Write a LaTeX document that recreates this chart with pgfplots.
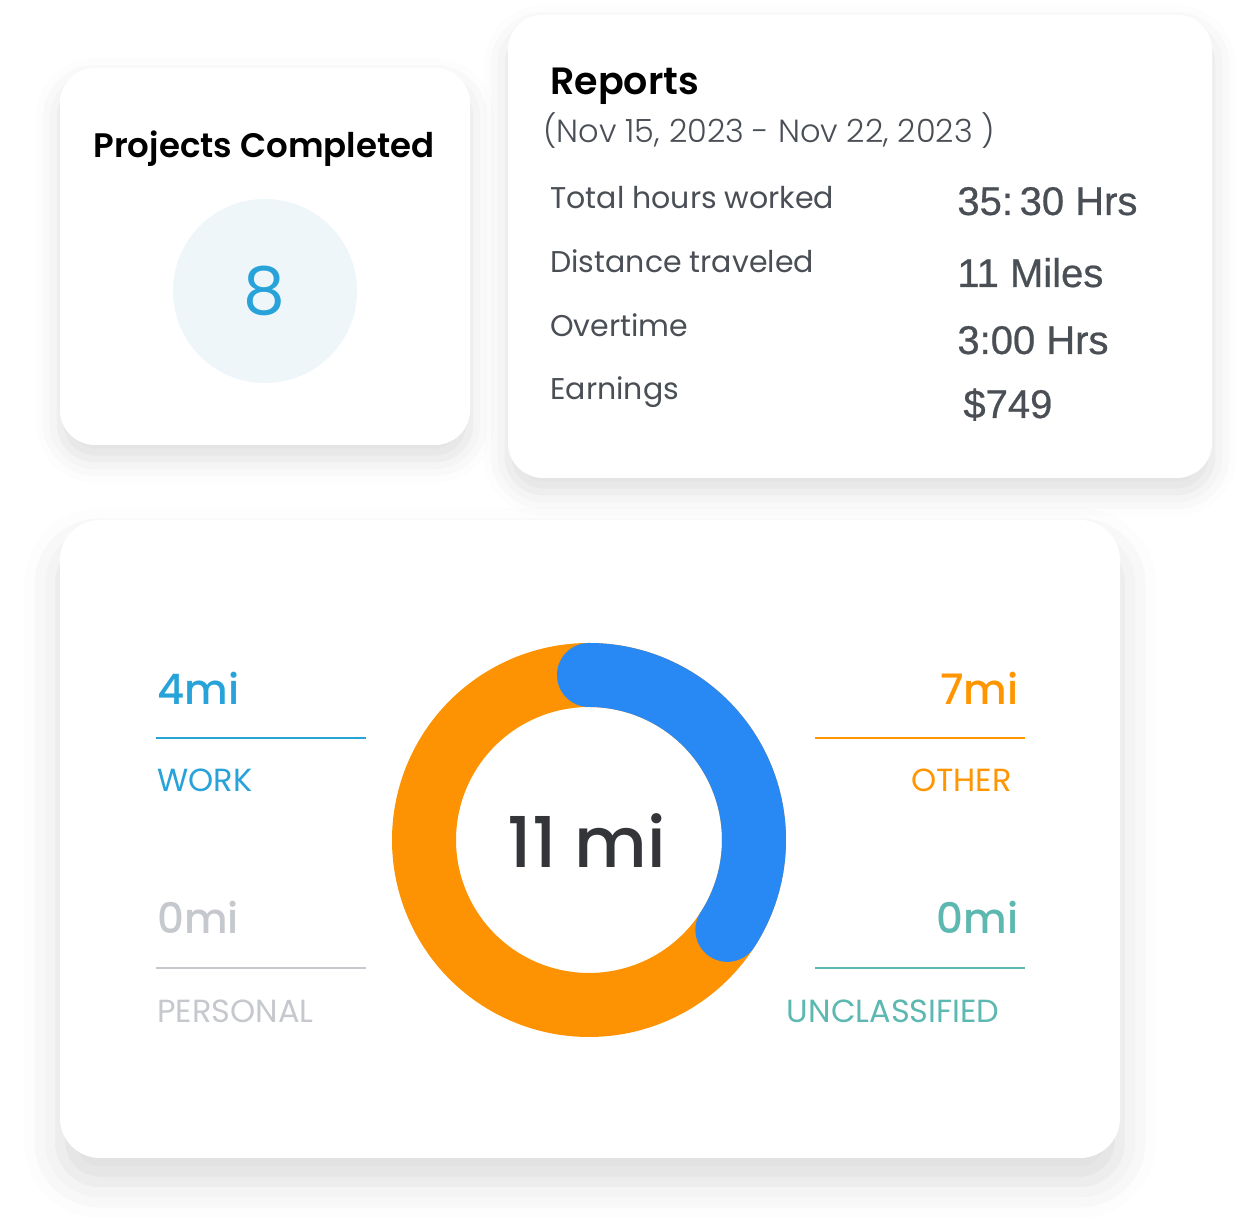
\documentclass[border=0pt]{standalone}
\usepackage{pgfplots}
\pgfplotsset{compat=1.18}
\usepackage{pgfplotstable}
\usepackage{fontspec}
\setmainfont{Poppins}
\newfontfamily\poplight{Poppins Light}
\newfontfamily\popsemi{Poppins SemiBold}
\newfontfamily\popmed{Poppins Medium}
\newfontfamily\valfont[FakeBold=0.6]{Liberation Sans}
\usetikzlibrary{shadows.blur}

\definecolor{workblue}{HTML}{27A3D9}
\definecolor{ringblue}{HTML}{2889F5}
\definecolor{ringorange}{HTML}{FD9302}
\definecolor{otherorange}{HTML}{FF9500}
\definecolor{personalgrey}{HTML}{C5C8CC}
\definecolor{tealc}{HTML}{5CB8B0}
\definecolor{textgrey}{HTML}{4A4F56}
\definecolor{circlebg}{HTML}{EEF6FA}
\definecolor{darktext}{HTML}{333539}

% donut segments: start angle, end angle (deg), miles
\pgfplotstableread{
seg   start  end   miles
other -270   90    7
work  -33    90    4
}\donut

\newcommand{\fs}[1]{\fontsize{#1}{#1}\selectfont}

\begin{document}
\begin{tikzpicture}
\begin{axis}[name=ax, scale only axis, width=619.5pt, height=615.5pt,
  xmin=0, xmax=1239, ymin=0, ymax=1231, hide axis, clip=false]

% cards
\fill[white, rounded corners=17.5pt,
  blur shadow={shadow xshift=0pt, shadow yshift=-7pt, shadow blur radius=12pt, shadow opacity=13}]
  (axis cs:60,1163) rectangle (axis cs:470,786);
\fill[white, rounded corners=17.5pt,
  blur shadow={shadow xshift=0pt, shadow yshift=-7pt, shadow blur radius=12pt, shadow opacity=13}]
  (axis cs:508,1216) rectangle (axis cs:1212,753);
\fill[white, rounded corners=20pt,
  blur shadow={shadow xshift=0pt, shadow yshift=-12pt, shadow blur radius=18pt, shadow opacity=14}]
  (axis cs:60,711) rectangle (axis cs:1120,73);

% projects completed
\node[anchor=base, font=\popsemi\fs{17pt}] at (axis cs:264,1073) {Projects Completed};
\fill[circlebg] (axis cs:265,940) circle[radius=46pt];
\node[anchor=base, font=\fs{33pt}, text=workblue] at (axis cs:264,916) {8};

% reports
\node[anchor=base west, font=\popsemi\fs{19pt}, inner sep=0pt] at (axis cs:550,1136) {Reports};
\node[anchor=base west, font=\poplight\fs{16pt}, text=textgrey, inner sep=0pt] at (axis cs:543,1088) {(Nov 15, 2023 - Nov 22, 2023 )};
\begin{scope}[every node/.style={anchor=base west, inner sep=0pt, text=textgrey}]
\node[font=\fs{15pt}] at (axis cs:550,1022) {Total hours worked};
\node[font=\fs{15pt}] at (axis cs:550,958) {Distance traveled};
\node[font=\fs{15pt}] at (axis cs:550,894) {Overtime};
\node[font=\fs{15pt}] at (axis cs:550,831) {Earnings};
\node[font=\valfont\fs{20pt}] at (axis cs:957,1016) {35:\,30 Hrs};
\node[font=\valfont\fs{20pt}] at (axis cs:957,944) {11 Miles};
\node[font=\valfont\fs{20pt}] at (axis cs:957,877) {3:00 Hrs};
\node[font=\valfont\fs{20pt}] at (axis cs:963,813) {\$749};
\end{scope}

% donut
\pgfplotstablegetelem{0}{start}\of\donut \let\os\pgfplotsretval
\pgfplotstablegetelem{0}{end}\of\donut \let\oe\pgfplotsretval
\pgfplotstablegetelem{1}{start}\of\donut \let\ws\pgfplotsretval
\pgfplotstablegetelem{1}{end}\of\donut \let\we\pgfplotsretval
\addplot[ringorange, line width=32pt, domain=\os:\oe, samples=241, line cap=round]
  ({589+165*cos(x)},{391+165*sin(x)});
\addplot[ringblue, line width=32pt, domain=\ws:\we, samples=101, line cap=round]
  ({589+165*cos(x)},{391+165*sin(x)});
\node[anchor=base, font=\popmed\fs{35pt}, text=darktext] at (axis cs:587,363) {11 mi};

% legend-like labels
\begin{scope}[every node/.style={inner sep=0pt}]
\node[anchor=base west, font=\popmed\fs{21pt}, text=workblue] at (axis cs:157,526) {4mi};
\draw[workblue, line width=1pt] (axis cs:156,493) -- (axis cs:366,493);
\node[anchor=base west, font=\fs{16pt}, text=workblue] at (axis cs:157,439) {WORK};
\node[anchor=base west, font=\popmed\fs{21pt}, text=personalgrey] at (axis cs:157,297) {0mi};
\draw[personalgrey, line width=1pt] (axis cs:156,263) -- (axis cs:366,263);
\node[anchor=base west, font=\fs{16pt}, text=personalgrey] at (axis cs:157,208) {PERSONAL};

\node[anchor=base east, font=\popmed\fs{21pt}, text=otherorange] at (axis cs:1019,526) {7mi};
\draw[otherorange, line width=1pt] (axis cs:815,493) -- (axis cs:1025,493);
\node[anchor=base east, font=\fs{16pt}, text=otherorange] at (axis cs:1012,439) {OTHER};
\node[anchor=base east, font=\popmed\fs{21pt}, text=tealc] at (axis cs:1019,297) {0mi};
\draw[tealc, line width=1pt] (axis cs:815,263) -- (axis cs:1025,263);
\node[anchor=base east, font=\fs{16pt}, text=tealc] at (axis cs:1000,208) {UNCLASSIFIED};
\end{scope}
\end{axis}
\pgfresetboundingbox
\path (ax.south west) rectangle (ax.north east);
\end{tikzpicture}
\end{document}
